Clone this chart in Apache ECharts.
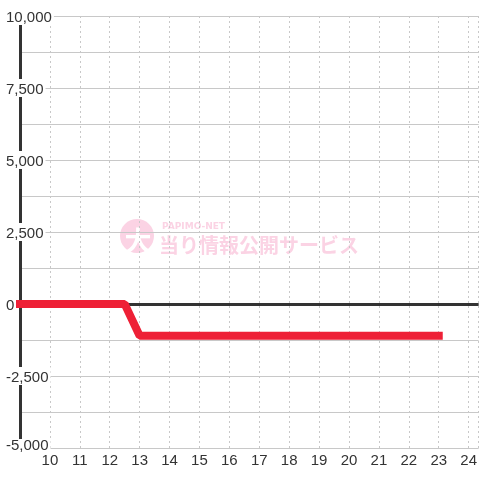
<!DOCTYPE html>
<html>
<head>
<meta charset="utf-8">
<script src="https://cdn.jsdelivr.net/npm/echarts@6/dist/echarts.min.js"></script>
<style>
html, body { margin: 0; padding: 0; background: #fff; }
#chart { width: 480px; height: 480px; }
</style>
</head>
<body>
<div id="chart"></div>
<script>
// 時刻 (x) と差枚 (y)
const hours = [9, 10, 11, 12, 12.5, 13, 14, 15, 16, 17, 18, 19, 20, 21, 22, 23]
const diff = [0, 0, 0, 0, 0, -1100, -1100, -1100, -1100, -1100, -1100, -1100, -1100, -1100, -1100, -1100]
const yTicks = [-5000, -2500, 0, 2500, 5000, 7500, 10000]

const chart = echarts.init(document.getElementById('chart'))

const fmt = (v) => {
  if (yTicks.indexOf(v) < 0) return ''
  const s = v.toLocaleString('en-US')
  // 一番下のラベルは少し上に寄せる
  if (v === yTicks[0]) return '{lo|' + s + '}'
  return s
}

const option = {
  animation: false,
  backgroundColor: '#ffffff',
  grid: {
    left: 20,
    right: 0,
    top: 16,
    bottom: 32
  },
  xAxis: {
    type: 'value',
    min: 9,
    max: 24.333,
    interval: 1,
    axisLine: { show: false },
    axisTick: { show: false },
    axisLabel: {
      color: '#333',
      fontSize: 15,
      fontFamily: 'Liberation Sans',
      margin: 5,
      showMinLabel: false,
      showMaxLabel: false
    },
    splitLine: {
      show: true,
      lineStyle: { color: '#c8c8c8', type: [2, 3], width: 1 }
    }
  },
  yAxis: {
    type: 'value',
    min: -5000,
    max: 10000,
    interval: 1250,
    axisLine: {
      show: true,
      onZero: false,
      lineStyle: { color: '#333', width: 3 }
    },
    axisTick: { show: false },
    axisLabel: {
      color: '#333',
      fontSize: 15,
      fontFamily: 'Liberation Sans',
      align: 'left',
      margin: 14,
      backgroundColor: '#fff',
      padding: [4, 2, 0, 0],
      lineHeight: 14,
      formatter: fmt,
      rich: {
        lo: {
          color: '#333',
          fontSize: 15,
          fontFamily: 'Liberation Sans',
          lineHeight: 14,
          padding: [0, 0, 8, 0]
        }
      }
    },
    splitLine: {
      show: true,
      lineStyle: { color: '#c8c8c8', width: 1 }
    }
  },
  graphic: [
    {
      type: 'group',
      silent: true,
      z: 1,
      children: [
        {
          type: 'circle',
          shape: { cx: 137, cy: 236, r: 17 },
          style: { fill: '#fbd3e4' }
        },
        {
          type: 'text',
          x: 138,
          y: 241,
          style: {
            text: '大',
            fill: '#ffffff',
            font: 'bold 27px "Noto Sans CJK JP"',
            textAlign: 'center',
            textVerticalAlign: 'middle'
          }
        },
        {
          type: 'text',
          x: 162,
          y: 227,
          style: {
            text: 'PAPIMO-NET',
            fill: '#fbd3e4',
            font: 'bold 9px "DejaVu Sans"',
            textVerticalAlign: 'middle'
          }
        },
        {
          type: 'text',
          x: 159,
          y: 245,
          style: {
            text: '当り情報公開サービス',
            fill: '#fbd3e4',
            font: 'bold 20px "Noto Sans CJK JP"',
            textVerticalAlign: 'middle'
          }
        }
      ]
    }
  ],
  series: [
    {
      type: 'line',
      data: hours.map((h, i) => [h, diff[i]]),
      showSymbol: false,
      z: 3,
      lineStyle: { color: '#ee2036', width: 8, cap: 'square' },
      markLine: {
        silent: true,
        symbol: 'none',
        z: 2,
        label: { show: false },
        lineStyle: { color: '#333', width: 3, type: 'solid' },
        data: [{ yAxis: 0 }]
      }
    }
  ]
}

chart.setOption(option)
</script>
</body>
</html>
